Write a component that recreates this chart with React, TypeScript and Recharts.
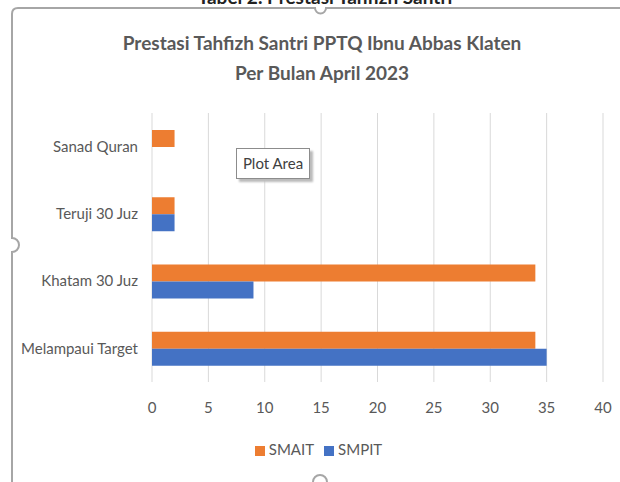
import { BarChart, Bar, XAxis, YAxis, CartesianGrid, Legend } from 'recharts'

const categories = ['Sanad Quran', 'Teruji 30 Juz', 'Khatam 30 Juz', 'Melampaui Target']
const smait = [2, 2, 34, 34]
const smpit = [0, 2, 9, 35]
const xTicks = [0, 5, 10, 15, 20, 25, 30, 35, 40]

const data = categories.map((name, i) => ({ name, SMAIT: smait[i], SMPIT: smpit[i] }))

const font = 'Lato, "Open Sans", sans-serif'
const gray = '#595959'

export default function App() {
  return (
    <div style={{ position: 'fixed', top: 0, left: 0, width: 620, height: 482, background: '#fff', overflow: 'hidden', fontFamily: font }}>
      {/* caption cut off at the top of the screenshot */}
      <div style={{ position: 'absolute', top: -15, left: 0, width: 650, textAlign: 'center', fontSize: 19, fontWeight: 700, color: '#222' }}>
        Tabel 2. Prestasi Tahfizh Santri
      </div>
      <div style={{ position: 'absolute', top: 28, left: 20, width: 604, textAlign: 'center', fontSize: 19, fontWeight: 700, color: gray, lineHeight: '30px' }}>
        Prestasi Tahfizh Santri PPTQ Ibnu Abbas Klaten
        <br />
        Per Bulan April 2023
      </div>
      <BarChart
        width={620}
        height={482}
        data={data}
        layout="vertical"
        margin={{ top: 113, right: 17, bottom: 42, left: 12 }}
        barGap={0}
        barCategoryGap={16}
      >
        <CartesianGrid horizontal={false} stroke="#d9d9d9" />
        <XAxis
          type="number"
          domain={[0, 40]}
          ticks={xTicks}
          axisLine={false}
          tickLine={false}
          tickMargin={14}
          height={40}
          tick={{ fontSize: 15, fill: gray, fontFamily: font }}
        />
        <YAxis
          type="category"
          dataKey="name"
          width={140}
          axisLine={false}
          tickLine={false}
          tickMargin={8}
          tick={{ fontSize: 15, fill: gray, fontFamily: font }}
        />
        <Legend
          iconType="square"
          iconSize={10}
          wrapperStyle={{ fontSize: 15, fontFamily: font, color: gray, bottom: 24, left: 28 }}
          formatter={(v) => <span style={{ color: gray }}>{v}</span>}
        />
        <Bar dataKey="SMAIT" fill="#ed7d31" barSize={17} isAnimationActive={false} />
        <Bar dataKey="SMPIT" fill="#4472c4" barSize={17} isAnimationActive={false} />
      </BarChart>
      {/* frame of the chart object */}
      <svg width={620} height={482} style={{ position: 'absolute', top: 0, left: 0, pointerEvents: 'none' }}>
        <path d="M12 482 L12 252 A7 7 0 0 0 12 238 L12 14 Q12 8 18 8 L315 8 A5.5 5.5 0 0 0 326 8 L620 8" fill="none" stroke="#a6a6a6" strokeWidth={2} />
        <path d="M313 482 A7 7 0 0 1 327 482" fill="none" stroke="#a6a6a6" strokeWidth={2} />
      </svg>
      <div style={{ position: 'absolute', left: 236, top: 148, width: 72, height: 29, background: '#fff', border: '1px solid #8c8c8c', boxShadow: '3px 3px 2px #bbb', fontSize: 15, color: '#404040', lineHeight: '29px', textAlign: 'center' }}>
        Plot Area
      </div>
    </div>
  )
}
